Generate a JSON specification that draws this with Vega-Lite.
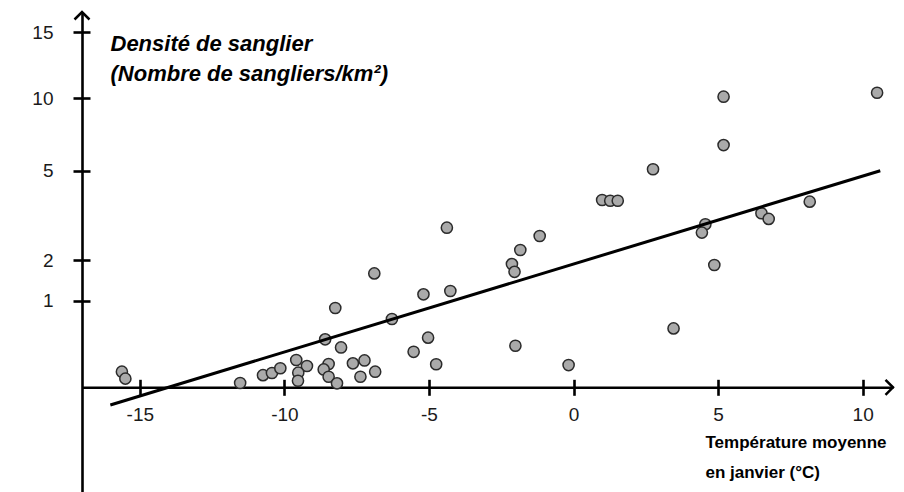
{
  "$schema": "https://vega.github.io/schema/vega-lite/v6.json",
  "width": 904,
  "height": 492,
  "autosize": {"type": "none"},
  "padding": 0,
  "background": "white",
  "view": {"stroke": null},
  "config": {"font": "Liberation Sans", "axis": {"grid": false}},
  "resolve": {"axis": {"x": "independent", "y": "independent"}},
  "layer": [
    {
      "data": {"values": [
        {"temperature": -15.62, "densite": 0.18},
        {"temperature": -15.50, "densite": 0.10},
        {"temperature": -11.53, "densite": 0.05},
        {"temperature": -10.74, "densite": 0.14},
        {"temperature": -10.43, "densite": 0.165},
        {"temperature": -10.14, "densite": 0.22},
        {"temperature": -9.59, "densite": 0.315},
        {"temperature": -9.22, "densite": 0.246},
        {"temperature": -9.52, "densite": 0.169},
        {"temperature": -9.53, "densite": 0.076},
        {"temperature": -8.24, "densite": 0.916},
        {"temperature": -8.59, "densite": 0.554},
        {"temperature": -8.04, "densite": 0.46},
        {"temperature": -8.47, "densite": 0.269},
        {"temperature": -8.64, "densite": 0.206},
        {"temperature": -8.47, "densite": 0.122},
        {"temperature": -8.18, "densite": 0.046},
        {"temperature": -7.63, "densite": 0.277},
        {"temperature": -7.23, "densite": 0.31},
        {"temperature": -7.37, "densite": 0.122},
        {"temperature": -6.86, "densite": 0.18},
        {"temperature": -6.89, "densite": 1.67},
        {"temperature": -6.28, "densite": 0.789},
        {"temperature": -5.53, "densite": 0.41},
        {"temperature": -5.19, "densite": 1.157},
        {"temperature": -5.03, "densite": 0.573},
        {"temperature": -4.75, "densite": 0.266},
        {"temperature": -4.38, "densite": 3.085},
        {"temperature": -4.26, "densite": 1.238},
        {"temperature": -2.13, "densite": 1.90},
        {"temperature": -2.04, "densite": 1.71},
        {"temperature": -2.01, "densite": 0.48},
        {"temperature": -1.84, "densite": 2.336},
        {"temperature": -1.17, "densite": 2.806},
        {"temperature": -0.17, "densite": 0.257},
        {"temperature": 0.99, "densite": 4.015},
        {"temperature": 1.27, "densite": 3.99},
        {"temperature": 1.53, "densite": 3.99},
        {"temperature": 2.75, "densite": 5.10},
        {"temperature": 3.46, "densite": 0.68},
        {"temperature": 4.56, "densite": 3.20},
        {"temperature": 4.44, "densite": 2.92},
        {"temperature": 4.87, "densite": 1.877},
        {"temperature": 5.19, "densite": 10.12},
        {"temperature": 5.19, "densite": 6.77},
        {"temperature": 6.50, "densite": 3.57},
        {"temperature": 6.75, "densite": 3.38},
        {"temperature": 8.17, "densite": 3.96},
        {"temperature": 10.50, "densite": 10.42}
      ]},
      "mark": {"type": "circle", "fill": "#aaaaaa", "stroke": "#2b2b2b", "strokeWidth": 1.5, "size": 125, "opacity": 1},
      "encoding": {
        "x": {"field": "temperature", "type": "quantitative",
          "scale": {"domain": [-17, 11.05], "range": [82, 893], "nice": false, "zero": false},
          "axis": {"orient": "bottom", "offset": -104.7, "domain": true, "domainColor": "#000000", "domainWidth": 2.6, "ticks": false, "labels": false, "title": null, "grid": false}},
        "y": {"field": "densite", "type": "quantitative",
          "scale": {"domain": [-2, 0, 1, 2, 5, 10, 15, 16.5], "range": [560.5, 387.3, 300.7, 260, 170.7, 98.3, 32, 12], "nice": false, "zero": false},
          "axis": {"orient": "left", "offset": -82, "domain": true, "domainColor": "#000000", "domainWidth": 2.6, "ticks": false, "labels": false, "title": null, "grid": false}}
      }
    },
    {
      "data": {"values": [
        {"temperature": -16.02, "densite": -0.204},
        {"temperature": 10.61, "densite": 5.0}
      ]},
      "mark": {"type": "line", "color": "#000000", "strokeWidth": 3},
      "encoding": {
        "x": {"field": "temperature", "type": "quantitative",
          "scale": {"domain": [-17, 11.05], "range": [82, 893], "nice": false, "zero": false},
          "axis": {"orient": "bottom", "offset": -112.7, "domain": false, "ticks": true, "tickSize": 16, "tickWidth": 2.6, "tickColor": "#000000",
            "values": [-15, -10, -5, 0, 5, 10],
            "labelExpr": "datum.value < 0 ? '-' + abs(datum.value) : '' + datum.value",
            "labelFont": "Liberation Sans", "labelFontSize": 19, "labelColor": "#1a1a1a", "labelPadding": 10, "labelFlush": false, "labelOverlap": false, "labelBound": false,
            "title": ["Température moyenne", "en janvier (°C)"],
            "titleFont": "Liberation Sans", "titleFontSize": 17, "titleFontWeight": "bold", "titleColor": "#000000",
            "titleX": 705, "titleY": 68, "titleAlign": "left", "titleBaseline": "alphabetic", "titleAngle": 0, "titleLineHeight": 30, "grid": false}},
        "y": {"field": "densite", "type": "quantitative",
          "scale": {"domain": [-2, 0, 1, 2, 5, 10, 15, 16.5], "range": [560.5, 387.3, 300.7, 260, 170.7, 98.3, 32, 12], "nice": false, "zero": false},
          "axis": {"orient": "left", "offset": -90, "domain": false, "ticks": true, "tickSize": 17, "tickWidth": 2.6, "tickColor": "#000000",
            "values": [1, 2, 5, 10, 15],
            "labelFont": "Liberation Sans", "labelFontSize": 19, "labelColor": "#1a1a1a", "labelPadding": 20, "labelAlign": "right", "labelBaseline": "middle", "labelFlush": false, "labelOverlap": false, "labelBound": false,
            "title": ["Densité de sanglier", "(Nombre de sangliers/km²)"],
            "titleFont": "Liberation Sans", "titleFontSize": 22, "titleFontWeight": "bold", "titleFontStyle": "italic", "titleColor": "#000000",
            "titleX": 20, "titleY": 50.5, "titleAlign": "left", "titleBaseline": "alphabetic", "titleAngle": 0, "titleLineHeight": 30, "grid": false}}
      }
    },
    {
      "data": {"values": [{"temperature": 11.05, "densite": 0}]},
      "mark": {"type": "point", "shape": "M -1 -1 L 0 0 L -1 1", "filled": false, "stroke": "#000000", "strokeWidth": 2.5, "size": 225, "opacity": 1},
      "encoding": {
        "x": {"field": "temperature", "type": "quantitative", "scale": {"domain": [-17, 11.05], "range": [82, 893], "nice": false, "zero": false}, "axis": null},
        "y": {"field": "densite", "type": "quantitative", "scale": {"domain": [-2, 0, 1, 2, 5, 10, 15, 16.5], "range": [560.5, 387.3, 300.7, 260, 170.7, 98.3, 32, 12], "nice": false, "zero": false}, "axis": null}
      }
    },
    {
      "data": {"values": [{"temperature": -17, "densite": 16.5}]},
      "mark": {"type": "point", "shape": "M -1 1 L 0 0 L 1 1", "filled": false, "stroke": "#000000", "strokeWidth": 2.5, "size": 225, "opacity": 1},
      "encoding": {
        "x": {"field": "temperature", "type": "quantitative", "scale": {"domain": [-17, 11.05], "range": [82, 893], "nice": false, "zero": false}, "axis": null},
        "y": {"field": "densite", "type": "quantitative", "scale": {"domain": [-2, 0, 1, 2, 5, 10, 15, 16.5], "range": [560.5, 387.3, 300.7, 260, 170.7, 98.3, 32, 12], "nice": false, "zero": false}, "axis": null}
      }
    }
  ]
}
